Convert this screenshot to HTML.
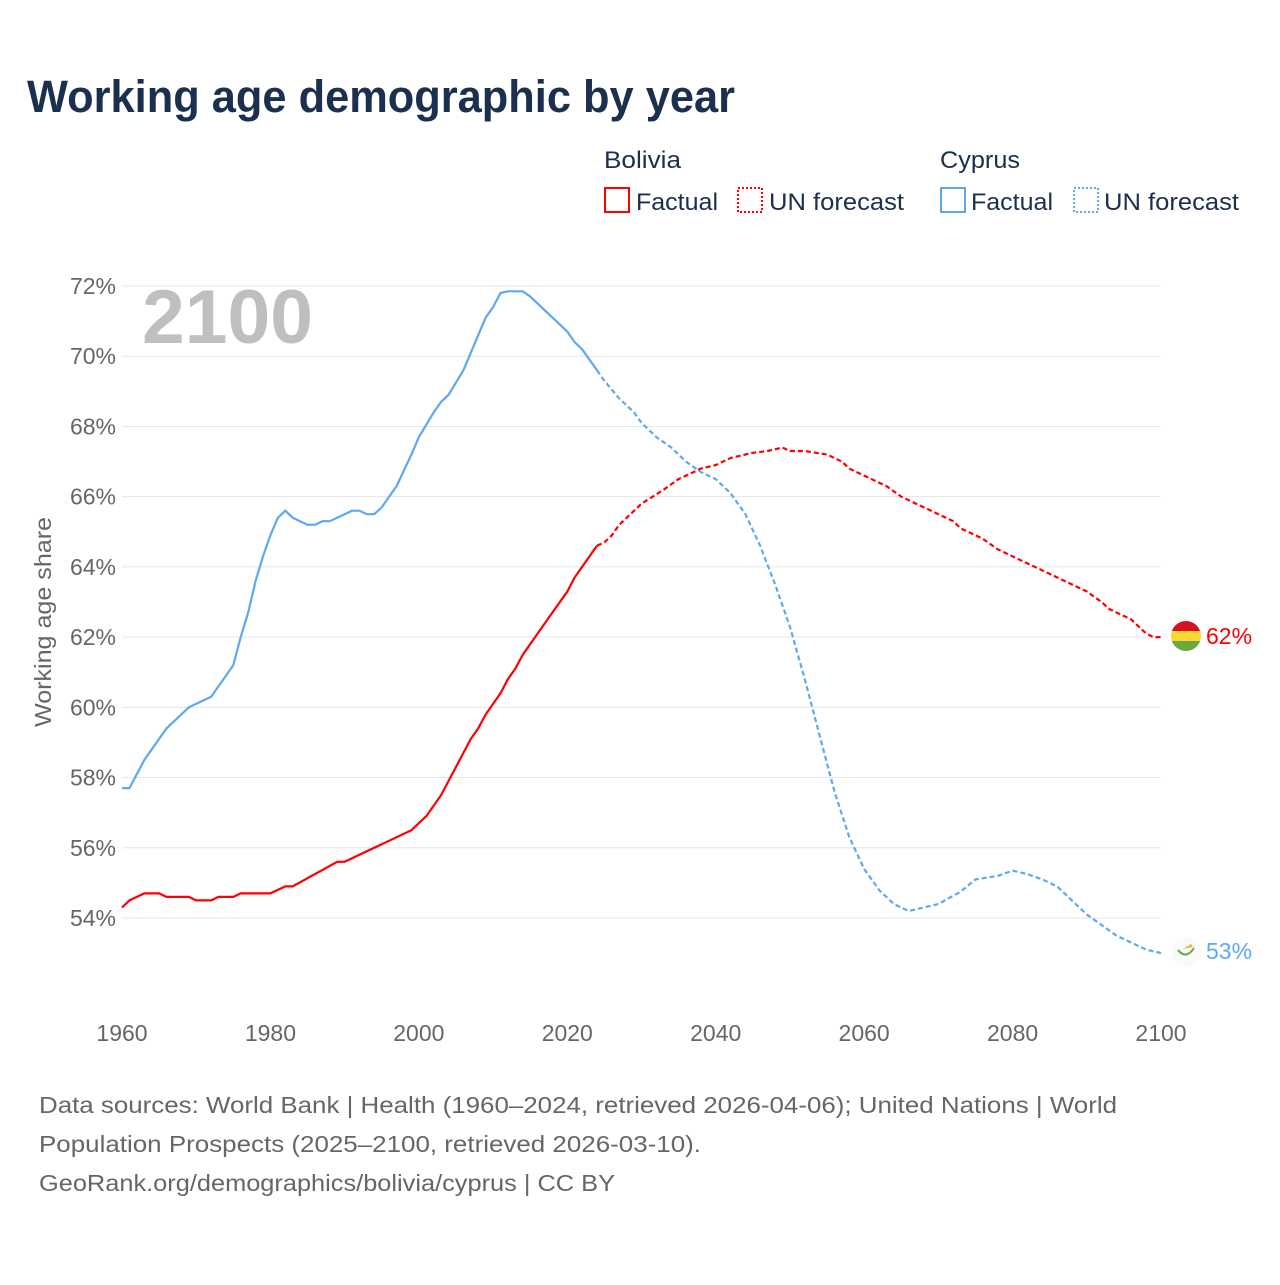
<!DOCTYPE html>
<html><head><meta charset="utf-8">
<style>
body{margin:0;background:#fff;font-family:"Liberation Sans",sans-serif;}
svg text{font-family:"Liberation Sans",sans-serif;}
</style></head>
<body>
<svg width="1280" height="1280" viewBox="0 0 1280 1280">
<rect width="1280" height="1280" fill="#fff"/>
<text x="27" y="112" font-size="45" font-weight="bold" fill="#1b2f4e" textLength="708" lengthAdjust="spacingAndGlyphs">Working age demographic by year</text>
<g font-size="24" fill="#1b2f4e">
<text x="604" y="168" fill="#1b2f4e" textLength="77" lengthAdjust="spacingAndGlyphs">Bolivia</text>
<rect x="605" y="188" width="24" height="24" fill="none" stroke="#f00" stroke-width="2"/>
<text x="636" y="210" fill="#1b2f4e" textLength="82" lengthAdjust="spacingAndGlyphs">Factual</text>
<rect x="738" y="188" width="24" height="24" fill="none" stroke="#f00" stroke-width="2" stroke-dasharray="2,2"/>
<text x="769" y="210" fill="#1b2f4e" textLength="135" lengthAdjust="spacingAndGlyphs">UN forecast</text>
<text x="940" y="168" fill="#1b2f4e" textLength="80" lengthAdjust="spacingAndGlyphs">Cyprus</text>
<rect x="941" y="188" width="24" height="24" fill="none" stroke="#5ea9ee" stroke-width="2"/>
<text x="971" y="210" fill="#1b2f4e" textLength="82" lengthAdjust="spacingAndGlyphs">Factual</text>
<rect x="1074" y="188" width="24" height="24" fill="none" stroke="#5ea9ee" stroke-width="2" stroke-dasharray="2,2"/>
<text x="1104" y="210" fill="#1b2f4e" textLength="135" lengthAdjust="spacingAndGlyphs">UN forecast</text>
</g>
<g id="grid"></g>
<text x="142" y="343" font-size="76" font-weight="bold" fill="#bfbfbf" textLength="171" lengthAdjust="spacingAndGlyphs">2100</text>
<text transform="translate(51,622) rotate(-90)" text-anchor="middle" font-size="23" fill="#666" textLength="210" lengthAdjust="spacingAndGlyphs">Working age share</text>
<g id="series"></g>
<g>
<clipPath id="cb"><circle cx="1186" cy="636" r="15"/></clipPath>
<g clip-path="url(#cb)"><rect x="1170" y="620" width="32" height="11" fill="#d91023"/><rect x="1170" y="631" width="32" height="10" fill="#fcd835"/><rect x="1170" y="641" width="32" height="11" fill="#6aa840"/></g>
<text x="1206" y="644" font-size="23" fill="#f00">62%</text>
</g>
<g>
<circle cx="1186" cy="952" r="15" fill="#fafafa"/>
<path d="M1178 950 q8 10 16 -2" stroke="#6aa840" stroke-width="2" fill="none"/>
<path d="M1183 949 l8 -5 l2 3 z" fill="#e8b632"/>
<text x="1206" y="959" font-size="23" fill="#5ea9ee">53%</text>
</g>
<g font-size="23" fill="#666">
<text x="39" y="1113" textLength="1078" lengthAdjust="spacingAndGlyphs">Data sources: World Bank | Health (1960–2024, retrieved 2026-04-06); United Nations | World</text>
<text x="39" y="1152" textLength="662" lengthAdjust="spacingAndGlyphs">Population Prospects (2025–2100, retrieved 2026-03-10).</text>
<text x="39" y="1191" textLength="576" lengthAdjust="spacingAndGlyphs">GeoRank.org/demographics/bolivia/cyprus | CC BY</text>
</g>
</svg>
<script>
const yTicks=[54,56,58,60,62,64,66,68,70,72];
const xTicks=[1960,1980,2000,2020,2040,2060,2080,2100];
const forecastStart=2024;
const bolYears=[1960,1961,1963,1965,1966,1969,1970,1972,1973,1975,1976,1980,1982,1983,1989,1990,1999,2001,2003,2005,2007,2008,2009,2011,2012,2013,2014,2016,2018,2020,2021,2023,2024,2025,2026,2027,2030,2033,2035,2038,2040,2042,2045,2047,2049,2050,2052,2055,2057,2058,2060,2063,2065,2068,2070,2072,2073,2076,2078,2080,2085,2090,2092,2093,2095,2096,2097,2098,2099,2100];
const bolValues=[54.3,54.5,54.7,54.7,54.6,54.6,54.5,54.5,54.6,54.6,54.7,54.7,54.9,54.9,55.6,55.6,56.5,56.9,57.5,58.3,59.1,59.4,59.8,60.4,60.8,61.1,61.5,62.1,62.7,63.3,63.7,64.3,64.6,64.7,64.9,65.2,65.8,66.2,66.5,66.8,66.9,67.1,67.25,67.3,67.4,67.3,67.3,67.2,67.0,66.8,66.6,66.3,66.0,65.7,65.5,65.3,65.1,64.8,64.5,64.3,63.8,63.3,63.0,62.8,62.6,62.5,62.3,62.1,62.0,62.0];
const cypYears=[1960,1961,1963,1966,1969,1972,1975,1976,1977,1978,1979,1980,1981,1982,1983,1985,1986,1987,1988,1990,1991,1992,1993,1994,1995,1997,1999,2000,2002,2003,2004,2006,2008,2009,2010,2011,2012,2014,2015,2017,2019,2020,2021,2022,2024,2025,2027,2029,2030,2032,2034,2036,2038,2040,2042,2044,2046,2048,2050,2052,2054,2056,2058,2060,2062,2064,2066,2068,2070,2073,2075,2078,2080,2082,2084,2086,2088,2090,2092,2094,2096,2098,2100];
const cypValues=[57.7,57.7,58.5,59.4,60.0,60.3,61.2,62.0,62.7,63.6,64.3,64.9,65.4,65.6,65.4,65.2,65.2,65.3,65.3,65.5,65.6,65.6,65.5,65.5,65.7,66.3,67.2,67.7,68.4,68.7,68.9,69.6,70.6,71.1,71.4,71.8,71.85,71.85,71.7,71.3,70.9,70.7,70.4,70.2,69.6,69.3,68.8,68.4,68.1,67.7,67.4,67.0,66.7,66.5,66.1,65.5,64.6,63.5,62.3,60.8,59.2,57.6,56.3,55.4,54.8,54.4,54.2,54.3,54.4,54.75,55.1,55.2,55.35,55.25,55.1,54.9,54.5,54.1,53.8,53.5,53.3,53.1,53.0];
const X=y=>122+(y-1960)*(1039/140);
const Y=v=>286+(72-v)*(632/18);
const NS='http://www.w3.org/2000/svg';
const grid=document.getElementById('grid');
yTicks.forEach(t=>{
 const l=document.createElementNS(NS,'line');
 l.setAttribute('x1',122);l.setAttribute('x2',1161);l.setAttribute('y1',Y(t));l.setAttribute('y2',Y(t));
 l.setAttribute('stroke','#e6e6e6');l.setAttribute('stroke-width','1');
 
 
 grid.appendChild(l);
 const tx=document.createElementNS(NS,'text');
 tx.setAttribute('x',116);tx.setAttribute('y',Y(t)+8);tx.setAttribute('text-anchor','end');
 tx.setAttribute('font-size','23');tx.setAttribute('fill','#666');tx.textContent=t+'%';
 
 
 grid.appendChild(tx);
});
xTicks.forEach(t=>{
 const tx=document.createElementNS(NS,'text');
 tx.setAttribute('x',X(t));tx.setAttribute('y',1041);tx.setAttribute('text-anchor','middle');
 tx.setAttribute('font-size','23');tx.setAttribute('fill','#666');tx.textContent=t;
 
 
 grid.appendChild(tx);
});
const series=document.getElementById('series');
function draw(years,vals,color,name){
 const fact=[],fore=[];
 years.forEach((yr,i)=>{const p=X(yr).toFixed(1)+','+Y(vals[i]).toFixed(1);
  if(yr<=forecastStart)fact.push(p);if(yr>=forecastStart)fore.push(p);});
 const a=document.createElementNS(NS,'polyline');
 a.setAttribute('points',fact.join(' '));a.setAttribute('fill','none');a.setAttribute('stroke',color);a.setAttribute('stroke-width','2.2');
 
 
 series.appendChild(a);
 const b=document.createElementNS(NS,'polyline');
 b.setAttribute('points',fore.join(' '));b.setAttribute('fill','none');b.setAttribute('stroke',color);b.setAttribute('stroke-width','2.2');b.setAttribute('stroke-dasharray','5,3');
 
 
 series.appendChild(b);
}
draw(cypYears,cypValues,'#5ea9ee','cyprus');
draw(bolYears,bolValues,'#ff0000','bolivia');
</script>
</body></html>
